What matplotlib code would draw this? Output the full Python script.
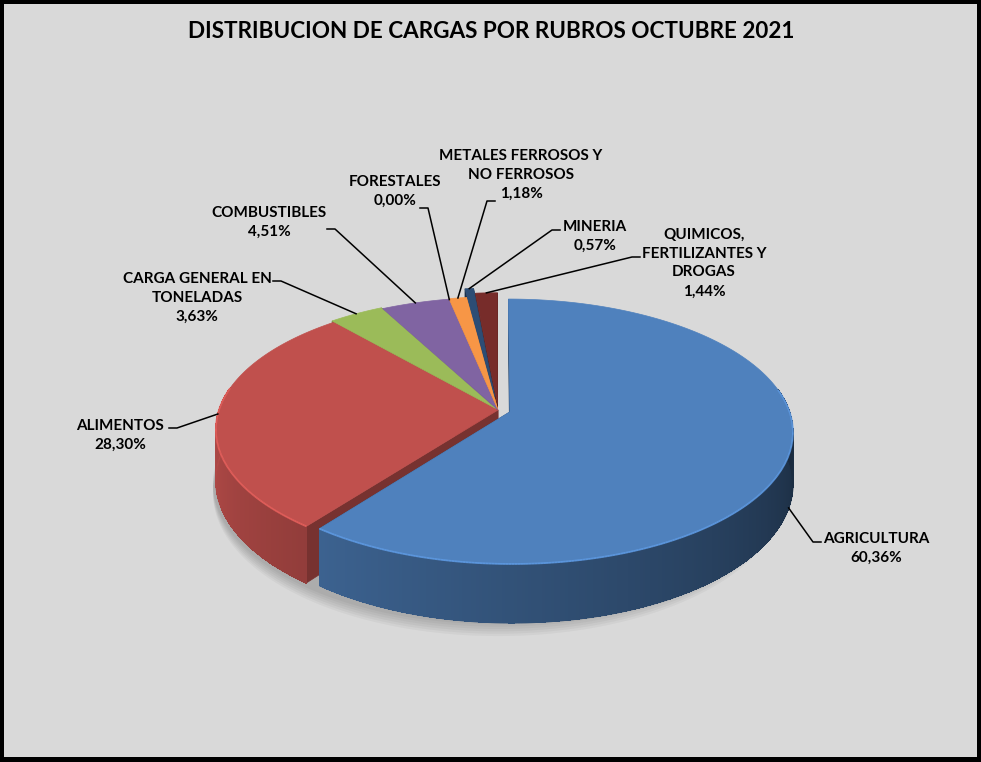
import numpy as np
import matplotlib.pyplot as plt
from matplotlib.patches import Polygon, Rectangle
from matplotlib.collections import PolyCollection, LineCollection
from matplotlib.colors import to_rgb

# datos (porcentaje de cargas por rubro, octubre 2021)
rubros = ['AGRICULTURA', 'ALIMENTOS', 'CARGA GENERAL EN\nTONELADAS', 'COMBUSTIBLES',
          'FORESTALES', 'METALES FERROSOS Y\nNO FERROSOS', 'MINERIA',
          'QUIMICOS,\nFERTILIZANTES Y\nDROGAS']
porcentajes = [60.36, 28.30, 3.63, 4.51, 0.00, 1.18, 0.57, 1.44]
etiquetas_pct = ['60,36%', '28,30%', '3,63%', '4,51%', '0,00%', '1,18%', '0,57%', '1,44%']
colores = ['#4F81BD', '#C0504D', '#9BBB59', '#8064A2', '#4BACC6', '#F79646', '#2C4D75', '#772C2A']
explode = [0.045, 0.0, 0.015, 0.005, 0.0, 0.01, 0.10, 0.05]

# posicion de las etiquetas (centro del texto) y codo de la linea guia
label_xy = [(876, 548), (120, 435), (197, 298), (269, 222), (395, 191), (521, 175), (595, 236), (704, 263)]
codo_xy = [(813, 542), (177, 428), (281, 281), (335, 229), (428, 208), (487, 201), (552, 230), (632, 257)]
codo_fin = [(821, 542), (169, 428), (273, 281), (327, 229), (420, 208), (495, 201), (560, 230), (640, 257)]
anchor_z = [1.0, 0.0, 0.0, 0.0, 0.0, 0.0, 0.0, 0.0]

# geometria del pastel 3D (perspectiva simple)
CX, CY = 498, 410
R, RY, K, H = 279, 129, 0.148, 50


def proj(u, v, z=0.0):
    w = 1 + K * v
    return CX + R * u / w, CY - RY * v / w + H * z / w


def shade(color, f):
    r, g, b = to_rgb(color)
    return (min(r * f, 1), min(g * f, 1), min(b * f, 1))


def wall_factor(a):
    a = np.clip(a, -180, 0)
    return 0.76 - 0.0034 * (a + 127)


plt.rcParams['font.family'] = ['Lato', 'DejaVu Sans']

fig = plt.figure(figsize=(9.81, 7.62), dpi=100, facecolor='black')
ax = fig.add_axes([0, 0, 1, 1])
ax.axis('off')
ax.add_patch(Rectangle((4, 4), 973, 753, facecolor='#D9D9D9', edgecolor='none', zorder=0))

ax.text(491, 32, 'DISTRIBUCION DE CARGAS POR RUBROS OCTUBRE 2021', ha='center', va='center',
        fontsize=16.2, fontweight='bold', color='black')

# sombra suave bajo el pastel
sh = np.radians(np.linspace(-192, 12, 200))
for d in range(2, 14, 2):
    pts = [proj(np.cos(t) * 1.01, np.sin(t) * 1.01, 1 + d / H) for t in sh]
    pts += [proj(np.cos(t), np.sin(t), 0) for t in sh[::-1]]
    ax.add_patch(Polygon(pts, closed=True, facecolor='black', edgecolor='none', alpha=0.035, zorder=1))

cum = np.cumsum([0] + porcentajes)
cut_faces = []
wall_quads, wall_cols = [], []
bot_segs, bot_cols = [], []
rim_segs, rim_cols = [], []
tops = []
anchors = []
for i, p in enumerate(porcentajes):
    a_start = 90 - 3.6 * cum[i]
    a_end = 90 - 3.6 * cum[i + 1]
    mid = np.radians((a_start + a_end) / 2)
    du, dv = explode[i] * np.cos(mid), explode[i] * np.sin(mid)
    anchors.append(proj(np.cos(mid) + du, np.sin(mid) + dv, anchor_z[i]))
    if p <= 0:
        continue
    n = max(3, int(abs(a_start - a_end) / 1.0))
    th = np.linspace(a_end, a_start, n)
    rad = np.radians(th)
    us, vs = np.cos(rad) + du, np.sin(rad) + dv
    tops.append(([proj(du, dv)] + [proj(u, v) for u, v in zip(us, vs)], colores[i]))

    # pared exterior (solo la parte visible del frente)
    lo, hi = max(a_end, -190), min(a_start, 10)
    if hi > lo:
        tw = np.linspace(lo, hi, max(3, int((hi - lo) / 0.5)))
        rw = np.radians(tw)
        uw, vw = np.cos(rw) + du, np.sin(rw) + dv
        for j in range(len(tw) - 1):
            a, b = (uw[j], vw[j]), (uw[j + 1], vw[j + 1])
            c = shade(colores[i], wall_factor((tw[j] + tw[j + 1]) / 2))
            wall_quads.append([proj(*a), proj(*b), proj(*b, 1), proj(*a, 1)])
            wall_cols.append(c)
            bot_segs.append([proj(*a, 1), proj(*b, 1)])
            bot_cols.append(c)
            rim_segs.append([proj(*a), proj(*b)])
            rim_cols.append(shade(colores[i], 1.22))

    for a in (a_start, a_end):
        r_ = np.radians(a)
        u, v = np.cos(r_) + du, np.sin(r_) + dv
        face = [proj(du, dv), proj(u, v), proj(u, v, 1), proj(du, dv, 1)]
        cut_faces.append(((dv + v) / 2, face, shade(colores[i], 0.62)))

cut_faces.sort(key=lambda t: -t[0])
for _, face, c in cut_faces:
    ax.add_patch(Polygon(face, closed=True, facecolor=c, edgecolor=c, lw=0.5, zorder=2))
ax.add_collection(PolyCollection(wall_quads, facecolors=wall_cols, edgecolors=wall_cols,
                                 linewidths=0.3, antialiaseds=False, zorder=3))
ax.add_collection(LineCollection(bot_segs, colors=bot_cols, linewidths=1.0, zorder=3))
for pts, c in tops:
    ax.add_patch(Polygon(pts, closed=True, facecolor=c, edgecolor=c, lw=0.5, zorder=4))
ax.add_collection(LineCollection(rim_segs, colors=rim_cols, linewidths=1.3, alpha=0.8, zorder=4.5))

# etiquetas y lineas guia
for i in range(len(rubros)):
    ax.plot([anchors[i][0], codo_xy[i][0], codo_fin[i][0]],
            [anchors[i][1], codo_xy[i][1], codo_fin[i][1]],
            color='black', lw=1.1, zorder=5)
    ax.text(label_xy[i][0], label_xy[i][1], rubros[i] + '\n' + etiquetas_pct[i],
            ha='center', va='center', multialignment='center', fontsize=11,
            fontweight='bold', linespacing=1.45, color='black', zorder=6)

ax.set_xlim(0, 981)
ax.set_ylim(762, 0)
fig.savefig('out.png', dpi=100, facecolor=fig.get_facecolor())
